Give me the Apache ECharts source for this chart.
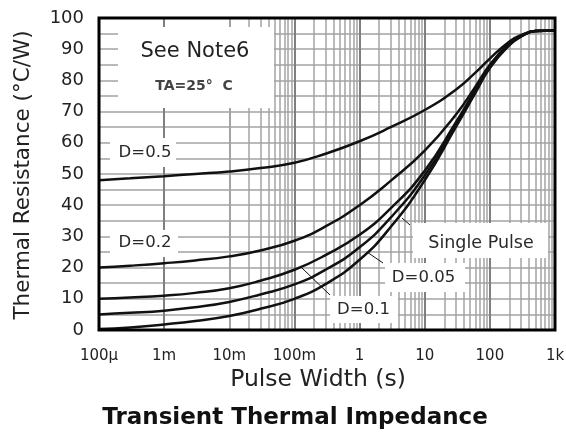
<!DOCTYPE html>
<html>
<head>
<meta charset="utf-8">
<title>Transient Thermal Impedance</title>
<script src="https://cdn.jsdelivr.net/npm/echarts@6.0.0/dist/echarts.min.js"></script>
<style>
  html, body { margin: 0; padding: 0; background: #fff; }
  #chart { width: 566px; height: 434px; }
</style>
</head>
<body>
<div id="chart"></div>
<script>
// pulse width (s)
const pulseWidth = [1e-4, 3e-4, 1e-3, 3e-3, 1e-2, 3e-2, 0.1, 0.3, 1, 3, 10, 30, 60, 100, 200, 300, 500, 1000]
// thermal resistance (°C/W)
const zD05 = [48, 48.6, 49.3, 50, 50.8, 51.9, 53.6, 56.5, 60.5, 65, 70.5, 77, 82.5, 87, 92.5, 94.5, 95.8, 96]
const zD02 = [20, 20.6, 21.4, 22.3, 23.6, 25.5, 28.6, 33.2, 40, 47.8, 57.5, 69, 78, 85, 92, 94.3, 95.8, 96]
const zD01 = [10, 10.4, 11, 11.9, 13.4, 15.8, 19.3, 24, 30.5, 39, 51, 66.5, 77, 84.5, 91.7, 94.2, 95.8, 96]
const zD005 = [5, 5.5, 6.2, 7.3, 9, 11.4, 14.6, 19.3, 26.5, 36, 49.5, 65.5, 76.5, 84.2, 91.5, 94.1, 95.8, 96]
const zSingle = [0.3, 0.8, 1.8, 2.9, 4.5, 6.8, 10, 14.7, 22.5, 33, 48, 65, 76, 84, 91.3, 94, 95.8, 96]

const xTickLabels = ['100µ', '1m', '10m', '100m', '1', '10', '100', '1k']

const FONT = 'DejaVu Sans'
const GRID_GRAY = '#a3a3a3'

// log minor grid lines, 2..9 in each decade
const minorGrid = []
for (let d = -4; d < 3; d++) {
  for (let k = 2; k < 10; k++) {
    minorGrid.push(k * Math.pow(10, d))
  }
}

function curve(values) {
  return pulseWidth.map((t, i) => [t, values[i]])
}

function lineSeries(name, values) {
  return {
    name: name,
    type: 'line',
    data: curve(values),
    smooth: 0.5,
    symbol: 'none',
    silent: true,
    z: 3,
    lineStyle: { color: '#111', width: 2.5 }
  }
}

// white label patch with text on top
function labelBox(x, y, w, h, text, cx, cy, size) {
  return [
    { type: 'rect', z: 20, shape: { x: x, y: y, width: w, height: h }, style: { fill: '#fff' } },
    { type: 'text', z: 21, x: cx, y: cy, style: { text: text, fill: '#2a2a2a', font: size + 'px "' + FONT + '"', align: 'center', verticalAlign: 'middle' } }
  ]
}

function leader(x1, y1, x2, y2) {
  return { type: 'line', z: 21, shape: { x1: x1, y1: y1, x2: x2, y2: y2 }, style: { stroke: '#111', lineWidth: 1 } }
}

const chart = echarts.init(document.getElementById('chart'))

chart.setOption({
  animation: false,
  grid: {
    left: 99,
    right: 11,
    top: 18,
    bottom: 104,
    show: true,
    z: 10,
    backgroundColor: 'transparent',
    borderColor: '#000',
    borderWidth: 3,
    outerBoundsMode: 'none'
  },
  xAxis: {
    type: 'log',
    logBase: 10,
    min: 1e-4,
    max: 1e3,
    axisLine: { show: false },
    axisTick: { show: false },
    axisLabel: {
      color: '#222',
      fontSize: 15,
      fontFamily: FONT,
      margin: 19,
      formatter: (v) => xTickLabels[Math.round(Math.log10(v)) + 4]
    },
    splitLine: { show: true, lineStyle: { color: '#7f7f7f', width: 2 } }
  },
  yAxis: {
    type: 'value',
    min: 0,
    max: 100,
    interval: 10,
    axisLine: { show: false },
    axisTick: { show: false },
    axisLabel: { color: '#222', fontSize: 18, fontFamily: FONT, margin: 15 },
    splitLine: { lineStyle: { color: GRID_GRAY, width: 1.5 } },
    minorTick: { show: false, splitNumber: 2 },
    minorSplitLine: { show: true, lineStyle: { color: GRID_GRAY, width: 1.5 } }
  },
  series: [
    {
      // carries the minor vertical grid lines only
      type: 'line',
      data: [],
      silent: true,
      markLine: {
        z: 1,
        silent: true,
        symbol: ['none', 'none'],
        label: { show: false },
        lineStyle: { type: 'solid', color: GRID_GRAY, width: 1.5 },
        data: minorGrid.map((v) => ({ xAxis: v }))
      }
    },
    lineSeries('D=0.5', zD05),
    lineSeries('D=0.2', zD02),
    lineSeries('D=0.1', zD01),
    lineSeries('D=0.05', zD005),
    lineSeries('Single Pulse', zSingle)
  ],
  graphic: [
    { type: 'rect', z: 20, shape: { x: 118, y: 27, width: 156, height: 81 }, style: { fill: '#fff' } },
    { type: 'text', z: 21, x: 195, y: 52, style: { text: 'See Note6', fill: '#222', font: '21px "' + FONT + '"', align: 'center', verticalAlign: 'middle' } },
    { type: 'text', z: 21, x: 194, y: 86, style: { text: 'TA=25°  C', fill: '#444', font: 'bold 14px "' + FONT + '"', align: 'center', verticalAlign: 'middle' } },
    ...labelBox(110, 138, 66, 29, 'D=0.5', 145, 152.5, 16.5),
    ...labelBox(110, 230, 68, 27, 'D=0.2', 145, 243, 16.5),
    ...labelBox(413, 223, 135, 35, 'Single Pulse', 481, 243.5, 17.5),
    ...labelBox(385, 263, 80, 29, 'D=0.05', 423.5, 277.5, 16.5),
    ...labelBox(330, 296, 68, 27, 'D=0.1', 363.5, 310, 16.5),
    leader(402, 218, 410, 225),
    leader(367, 252, 383, 263),
    leader(302, 268, 330, 295),
    // axis names and caption
    { type: 'text', z: 21, x: 23, y: 175, rotation: Math.PI / 2, style: { text: 'Thermal Resistance (°C/W)', fill: '#222', font: '21.5px "' + FONT + '"', align: 'center', verticalAlign: 'middle' } },
    { type: 'text', z: 21, x: 318, y: 380, style: { text: 'Pulse Width (s)', fill: '#222', font: '23.5px "' + FONT + '"', align: 'center', verticalAlign: 'middle' } },
    { type: 'text', z: 21, x: 295, y: 418, style: { text: 'Transient Thermal Impedance', fill: '#111', font: 'bold 23px "' + FONT + '"', align: 'center', verticalAlign: 'middle' } }
  ]
})
</script>
</body>
</html>
